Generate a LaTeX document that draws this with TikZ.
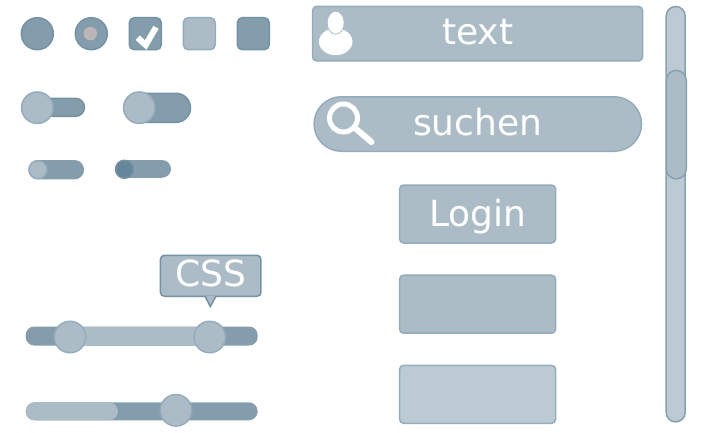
\documentclass[tikz,border=0pt]{standalone}
\usepackage{fontspec}
\setmainfont{DejaVu Sans}
\usetikzlibrary{shapes.geometric}
\definecolor{dark}{HTML}{849DAD}
\definecolor{darkline}{HTML}{7592A5}
\definecolor{mid}{HTML}{ACBCC7}
\definecolor{midline}{HTML}{94ACBB}
\definecolor{pale}{HTML}{BBCAD3}
\definecolor{palelinedark}{HTML}{88A1B1}
\definecolor{knobdark}{HTML}{66869C}
\definecolor{dot}{HTML}{BDB6B9}

\begin{document}
\begin{tikzpicture}[x=1pt,y=-1pt,line width=1.5pt,every node/.style={inner sep=0pt,text=white}]
  \tikzstyle{darkfill}=[fill=dark,draw=darkline]
  \tikzstyle{midfill}=[fill=mid,draw=midline]
  \tikzstyle{knob}=[midfill,circle,minimum size=31.5pt]
  \tikzstyle{tick}=[rectangle,rounded corners=5pt,minimum size=32pt]
  \tikzstyle{track}=[rectangle,rounded corners=8.5pt,darkfill,draw=none]
  \tikzstyle{btn}=[midfill,rectangle,rounded corners=4pt,minimum width=156pt,minimum height=58pt,
                   text height=25pt,text depth=3pt,font=\fontsize{36}{42}\selectfont]
  \useasboundingbox (0,0) rectangle (720,432);

  % radio and check boxes
  \node[darkfill,circle,minimum size=32pt] (radio_a) at (37.3,33.7) {};
  \node[darkfill,circle,minimum size=32pt] (radio_b) at (91.3,33.7) {};
  \node[fill=dot,circle,minimum size=13.5pt] (radio_dot) at (90.3,33.6) {};
  \node[darkfill,tick] (check_a) at (145.3,33.7) {};
  \coordinate (tick_a) at (137.7,37.7);
  \coordinate (tick_b) at (145.7,45);
  \coordinate (tick_c) at (156,27.3);
  \draw[white,line width=6pt] (tick_a) -- (tick_b) -- (tick_c);
  \node[midfill,tick] (check_b) at (199.3,33.7) {};
  \node[darkfill,tick] (check_c) at (253.3,33.7) {};

  % toggles
  \node[darkfill,rectangle,rounded corners=9pt,minimum width=47pt,minimum height=18pt] (tog_a) at (61,107.3) {};
  \node[knob] (tog_a_k) at (37.3,107.7) {};
  \node[darkfill,rectangle,rounded corners=14.5pt,minimum width=66pt,minimum height=29pt] (tog_b) at (157.5,107.8) {};
  \node[knob] (tog_b_k) at (139.3,107.7) {};
  \node[darkfill,draw=none,rectangle,rounded corners=9.5pt,minimum width=55.7pt,minimum height=19.3pt] (tog_c) at (56.2,169.7) {};
  \node[midfill,circle,minimum size=18pt] (tog_c_k) at (38,169.7) {};
  \node[darkfill,draw=none,rectangle,rounded corners=9pt,minimum width=55.7pt,minimum height=17.7pt] (tog_d) at (143.2,168.9) {};
  \node[fill=knobdark,draw=darkline,circle,minimum size=18pt] (tog_d_k) at (124.5,169.3) {};

  % tooltip
  \node[midfill,draw=darkline,rectangle,rounded corners=4pt,minimum width=100.5pt,minimum height=41pt,
        text height=25pt,text depth=3pt,font=\fontsize{36}{42}\selectfont] (css) at (210.7,275.8) {CSS};
  \coordinate (css_l) at (205,296.2);
  \coordinate (css_t) at (210.3,306.5);
  \coordinate (css_r) at (216,296.2);
  \draw[midfill,draw=darkline] (css_l) -- (css_t) -- (css_r);

  % sliders
  \node[track,minimum width=232pt,minimum height=19pt] (slide_a) at (141.7,336) {};
  \node[fill=mid,rectangle,minimum width=139.7pt,minimum height=19pt] (slide_a_m) at (139.8,336) {};
  \node[knob] (slide_a_k1) at (70,337) {};
  \node[knob] (slide_a_k2) at (209.7,337) {};
  \node[track,rounded corners=9pt,minimum width=232pt,minimum height=18pt] (slide_b) at (141.7,411.3) {};
  \node[fill=mid,rectangle,rounded corners=9pt,minimum width=92.3pt,minimum height=18pt] (slide_b_m) at (71.8,411.3) {};
  \node[knob] (slide_b_k) at (176,410.3) {};

  % input fields
  \node[btn,minimum width=330pt,minimum height=54.5pt] (field) at (477.6,33.7) {text};
  \node[fill=white,draw=mid,line width=.8pt,ellipse,minimum width=34.5pt,minimum height=28pt] (user_body) at (335.7,41.7) {};
  \node[fill=white,draw=mid,line width=.8pt,ellipse,minimum width=17pt,minimum height=23pt] (user_head) at (335.7,22.7) {};
  \node[btn,rounded corners=27.3pt,minimum width=327.5pt,minimum height=54.5pt] (search) at (477.8,124) {suchen};
  \node[draw=white,line width=5pt,circle,minimum size=28pt] (lens) at (343.5,118) {};
  \coordinate (grip) at (371.5,142);
  \draw[white,line width=6pt,line cap=round] (lens) ++(12,10.5) -- (grip);

  % buttons
  \node[btn,text depth=0pt] (login) at (477.6,214) {Login};
  \node[btn] (btn_a) at (477.6,304.2) {};
  \node[btn,fill=pale] (btn_b) at (477.6,394.3) {};

  % scrollbar
  \node[fill=pale,draw=palelinedark,rectangle,rounded corners=9.5pt,minimum width=19pt,minimum height=415.5pt] (bar) at (675.7,214.2) {};
  \node[fill=mid,draw=palelinedark,rectangle,rounded corners=10pt,minimum width=20pt,minimum height=108.5pt] (thumb) at (676.3,124.6) {};
\end{tikzpicture}
\end{document}
